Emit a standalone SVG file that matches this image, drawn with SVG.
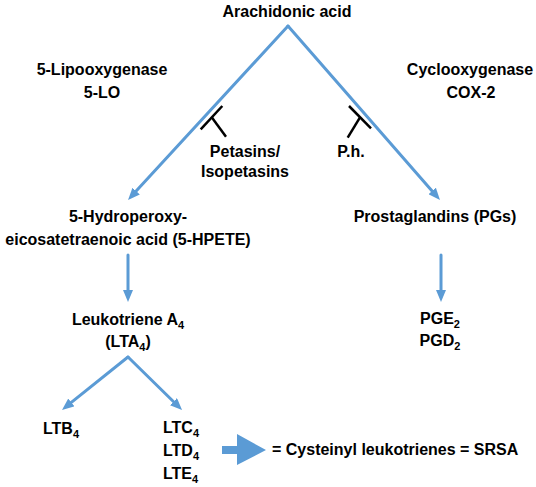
<svg xmlns="http://www.w3.org/2000/svg" width="536" height="487" viewBox="0 0 536 487">
<style>
text{font-family:"Liberation Sans",Arial,sans-serif;font-weight:bold;font-size:16px;fill:#000;}
.c{text-anchor:middle;}
.s{font-size:11px;}
.flow{stroke:#5B9BD5;stroke-width:3;fill:none;stroke-linecap:round;}
.inh{stroke:#000;stroke-width:2.5;fill:none;}
</style>
<defs>
<marker id="ah" viewBox="0 0 12 10" markerWidth="12" markerHeight="10" refX="2" refY="5" orient="auto" markerUnits="userSpaceOnUse">
<path d="M0,0 L12,5 L0,10 z" fill="#5B9BD5"/>
</marker>
</defs>
<rect width="536" height="487" fill="#fff"/>
<g id="connectors">
<line class="flow" x1="288" y1="26" x2="134.8" y2="192.6" marker-end="url(#ah)"/>
<line class="flow" x1="288" y1="26" x2="433.4" y2="192.5" marker-end="url(#ah)"/>
<line class="flow" x1="128" y1="255" x2="128" y2="292" marker-end="url(#ah)"/>
<line class="flow" x1="441" y1="255" x2="441" y2="292" marker-end="url(#ah)"/>
<line class="flow" x1="128" y1="357" x2="69.8" y2="403.7" marker-end="url(#ah)"/>
<line class="flow" x1="128" y1="357" x2="174.9" y2="403" marker-end="url(#ah)"/>
<g id="inhibit-petasins">
<line class="inh" x1="200.7" y1="129.3" x2="222.3" y2="106"/>
<line class="inh" x1="211.7" y1="117.3" x2="226" y2="136.7"/>
</g>
<g id="inhibit-ph">
<line class="inh" x1="349" y1="106" x2="371" y2="128.3"/>
<line class="inh" x1="360" y1="117.3" x2="347.7" y2="137.7"/>
</g>
<path id="block-arrow" d="M222,446 L237,446 L237,434 L266,450 L237,465 L237,454 L222,454 z" fill="#5B9BD5"/>
</g>
<g id="arachidonic"><text class="c" x="287" y="17">Arachidonic acid</text></g>
<g id="lo-label"><text class="c" x="102" y="75">5-Lipooxygenase</text><text class="c" x="102" y="98">5-LO</text></g>
<g id="cox-label"><text class="c" x="470" y="75">Cyclooxygenase</text><text class="c" x="471" y="98">COX-2</text></g>
<g id="petasins"><text class="c" x="245" y="157">Petasins/</text><text class="c" x="245" y="177">Isopetasins</text></g>
<g id="ph"><text class="c" x="351" y="157">P.h.</text></g>
<g id="hpete"><text class="c" x="128" y="222">5-Hydroperoxy-</text><text class="c" x="128" y="245">eicosatetraenoic acid (5-HPETE)</text></g>
<g id="pgs"><text class="c" x="435" y="222">Prostaglandins (PGs)</text></g>
<g id="lta4"><text class="c" x="128" y="325">Leukotriene A<tspan class="s" dy="4">4</tspan></text><text class="c" x="128" y="347">(LTA<tspan class="s" dy="4">4</tspan><tspan dy="-4">)</tspan></text></g>
<g id="pge"><text class="c" x="440" y="324">PGE<tspan class="s" dy="4">2</tspan></text><text class="c" x="440" y="346">PGD<tspan class="s" dy="4">2</tspan></text></g>
<g id="ltb4"><text x="43" y="434">LTB<tspan class="s" dy="4">4</tspan></text></g>
<g id="ltcde"><text x="163" y="433">LTC<tspan class="s" dy="4">4</tspan></text><text x="163" y="456">LTD<tspan class="s" dy="4">4</tspan></text><text x="163" y="479">LTE<tspan class="s" dy="4">4</tspan></text></g>
<g id="cysteinyl"><text x="272" y="455">= Cysteinyl leukotrienes = SRSA</text></g>
</svg>
